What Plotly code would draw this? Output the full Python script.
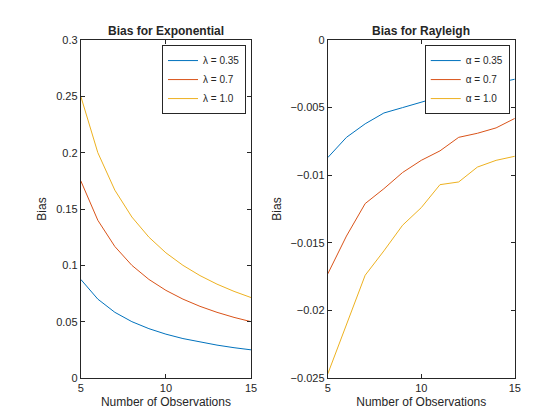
import plotly.graph_objects as go
from plotly.subplots import make_subplots

n = [5, 6, 7, 8, 9, 10, 11, 12, 13, 14, 15]
exp_035 = [0.0875, 0.07, 0.0583, 0.05, 0.0438, 0.0389, 0.035, 0.0318, 0.0292, 0.0269, 0.025]
exp_07 = [0.175, 0.14, 0.1167, 0.1, 0.0875, 0.0778, 0.07, 0.0636, 0.0583, 0.0538, 0.05]
exp_10 = [0.25, 0.2, 0.1667, 0.1429, 0.125, 0.1111, 0.1, 0.0909, 0.0833, 0.0769, 0.0714]
ray_035 = [-0.0087, -0.0072, -0.0062, -0.0054, -0.0050, -0.0046, -0.0042, -0.0039, -0.0035, -0.0032, -0.0029]
ray_07 = [-0.0173, -0.0145, -0.0121, -0.0110, -0.0098, -0.0089, -0.0082, -0.0072, -0.0069, -0.0065, -0.0058]
ray_10 = [-0.0247, -0.0210, -0.0174, -0.0156, -0.0137, -0.0124, -0.0107, -0.0105, -0.0094, -0.0089, -0.0086]
colors = ["#0072BD", "#D95319", "#EDB120"]

fig = make_subplots(rows=1, cols=2, horizontal_spacing=0.0)
for ys, name, c in zip([exp_035, exp_07, exp_10], ["λ = 0.35", "λ = 0.7", "λ = 1.0"], colors):
    fig.add_trace(go.Scatter(x=n, y=ys, mode="lines", name=name, line=dict(color=c, width=1), legend="legend"), 1, 1)
for ys, name, c in zip([ray_035, ray_07, ray_10], ["α = 0.35", "α = 0.7", "α = 1.0"], colors):
    fig.add_trace(go.Scatter(x=n, y=ys, mode="lines", name=name, line=dict(color=c, width=1), legend="legend2"), 1, 2)

ax = dict(showgrid=False, zeroline=False, showline=True, mirror="ticks", linecolor="#262626", automargin=False,
          ticks="inside", ticklen=4, tickcolor="#262626", tickfont=dict(size=11, color="#262626"))
fig.update_xaxes(**ax, range=[5, 15], dtick=5, title=dict(text="Number of Observations", font=dict(size=12), standoff=4))
fig.update_xaxes(domain=[0.130, 0.434], row=1, col=1)
fig.update_xaxes(domain=[0.571, 0.905], row=1, col=2)
fig.update_yaxes(**ax, title=dict(text="Bias", font=dict(size=12), standoff=6))
fig.update_yaxes(range=[0, 0.3], dtick=0.05, row=1, col=1)
fig.update_yaxes(range=[-0.025, 0], dtick=0.005, row=1, col=2)

leg = dict(bgcolor="white", bordercolor="#262626", borderwidth=1, font=dict(size=10, color="#262626"),
           xanchor="right", yanchor="top", tracegroupgap=0, itemwidth=30)
fig.update_layout(
    width=560, height=420, paper_bgcolor="white", plot_bgcolor="white",
    font=dict(family="Arial, Liberation Sans", color="#262626"),
    margin=dict(l=0, r=0, t=32, b=50, autoexpand=False),
    legend=dict(leg, x=0.425, y=0.985),
    legend2=dict(leg, x=0.896, y=0.985),
    annotations=[
        dict(text="<b>Bias for Exponential</b>", x=0.282, y=1.0, xref="paper", yref="paper", xanchor="center", yanchor="bottom", showarrow=False, font=dict(size=12)),
        dict(text="<b>Bias for Rayleigh</b>", x=0.738, y=1.0, xref="paper", yref="paper", xanchor="center", yanchor="bottom", showarrow=False, font=dict(size=12)),
    ],
)
fig.write_html("out.html")
